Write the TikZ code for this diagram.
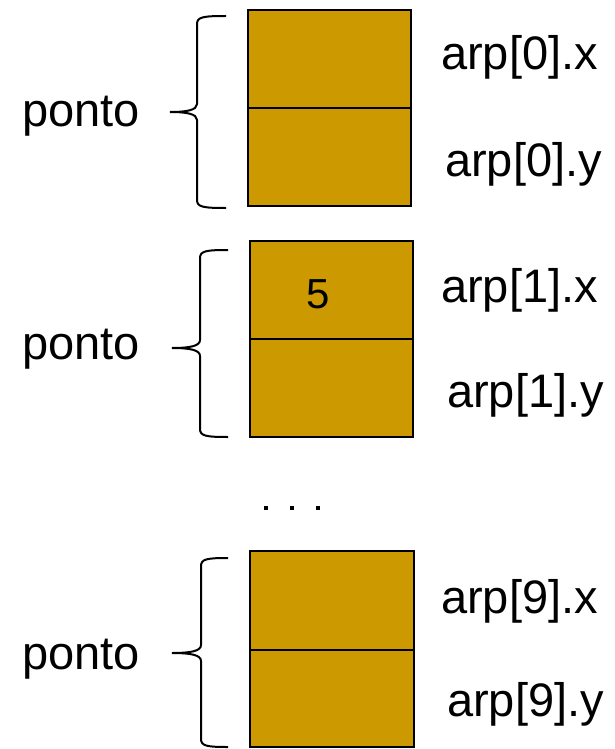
\documentclass[tikz,border=0pt]{standalone}
\usepackage{fontspec}
\setmainfont{Liberation Sans}
\definecolor{cellfill}{HTML}{CC9900}
\newcommand\mybrace[6]{% x, tipx, midtipx, top, mid, bot
  \draw[bracestyle] (#2,#4) .. controls (#1+6,#4) and (#1,#4+1) .. (#1,#4+8)
    -- (#1,#5-8) .. controls (#1,#5-2) and (#1-10,#5) .. (#3,#5)
    .. controls (#1-10,#5) and (#1,#5+2) .. (#1,#5+8)
    -- (#1,#6-8) .. controls (#1,#6-1) and (#1+6,#6) .. (#2,#6);}
\begin{document}
\begin{tikzpicture}[x=1pt,y=-1pt,
  cell/.style={draw=black,line width=2pt,fill=cellfill},
  bracestyle/.style={draw=black,line width=2pt},
  lbl/.style={anchor=base west,inner sep=0pt,font=\fontsize{47}{50}\selectfont},
  divider/.style={draw=black,line width=2pt}]
\useasboundingbox (0,0) rectangle (614,749);
% block 1
\filldraw[cell] (248,10) rectangle (411,206);
\draw[divider] (248,108) -- (411,108);
\mybrace{197}{226}{170}{16}{112}{208}
\node[lbl] (p0) at (22,127) {ponto};
\node[lbl] (a0x) at (441,70) {arp[0].x};
\node[lbl] (a0y) at (445,176) {arp[0].y};
% block 2
\filldraw[cell] (250,241) rectangle (413,437);
\draw[divider] (250,339) -- (413,339);
\mybrace{200}{228}{172}{250}{348}{437}
\node[lbl] (p1) at (22,359) {ponto};
\node[lbl] (a1x) at (441,302) {arp[1].x};
\node[lbl] (a1y) at (447,407) {arp[1].y};
\node[anchor=base,inner sep=0pt,font=\fontsize{42}{46}\selectfont] (five) at (318,308) {5};
% dots
\foreach \xx in {266,292,318} \fill (\xx-2,506) rectangle (\xx+2,510);
% block 3
\filldraw[cell] (250,551) rectangle (414,747);
\draw[divider] (250,650) -- (414,650);
\mybrace{201}{228}{172}{558}{653}{747}
\node[lbl] (p9) at (22,669) {ponto};
\node[lbl] (a9x) at (441,613) {arp[9].x};
\node[lbl] (a9y) at (447,716) {arp[9].y};
\end{tikzpicture}
\end{document}
